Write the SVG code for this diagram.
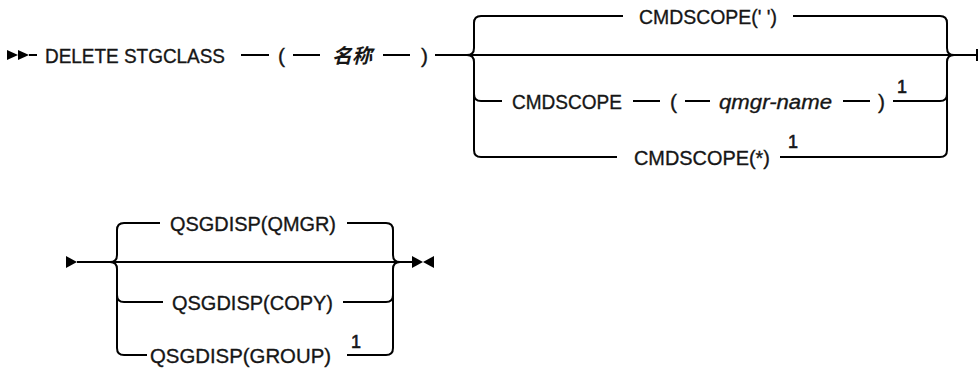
<svg xmlns="http://www.w3.org/2000/svg" width="978" height="369" viewBox="0 0 978 369">
<style>
.ln{fill:none;stroke:#000;stroke-width:2;stroke-linecap:butt;stroke-linejoin:round}
.mk{fill:#000;stroke:none}
.t{font-family:"Liberation Sans",Arial,sans-serif;font-size:21px;fill:#161616;stroke:#161616;stroke-width:0.35}
.i{font-style:italic}
.cjk{font-family:"Liberation Sans","Noto Sans CJK SC",sans-serif;font-style:italic;font-weight:bold;font-size:20px;fill:#161616}
.sup{font-family:"Liberation Sans",Arial,sans-serif;font-size:18px;fill:#161616;stroke:#161616;stroke-width:0.6}
</style>
<rect width="978" height="369" fill="#fff"/>
<g id="connectors">
  <!-- row 1 -->
  <polygon class="mk" points="7,50 18,55 7,60"/>
  <polygon class="mk" points="18,50 29,55 18,60"/>
  <path class="ln" d="M29,55 H37"/>
  <path class="ln" d="M241,55 H269 M293,55 H320 M383,55 H410"/>
  <path class="ln" d="M435,55 H977 M977,49 V61"/>
  <path class="ln" d="M467,55 Q474,55 474,48 V23 Q474,16 481,16 H623"/>
  <path class="ln" d="M467,55 Q474,55 474,62 V150 Q474,157 481,157 H617"/>
  <path class="ln" d="M474,94 Q474,101 481,101 H502"/>
  <path class="ln" d="M633,101 H660 M685,101 H710 M843,101 H870"/>
  <path class="ln" d="M793,16 H940 Q947,16 947,23 V48 Q947,55 954,55"/>
  <path class="ln" d="M893,101 H940 Q947,101 947,94"/>
  <path class="ln" d="M780,157 H940 Q947,157 947,150 V62 Q947,55 954,55"/>
  <!-- row 2 -->
  <polygon class="mk" points="66,256 77,262 66,268"/>
  <path class="ln" d="M77,262 H412"/>
  <path class="ln" d="M110,262 Q117,262 117,255 V230 Q117,223 124,223 H160"/>
  <path class="ln" d="M110,262 Q117,262 117,269 V348 Q117,355 124,355 H147"/>
  <path class="ln" d="M117,295 Q117,302 124,302 H163"/>
  <path class="ln" d="M347,223 H386 Q393,223 393,230 V255 Q393,262 400,262"/>
  <path class="ln" d="M343,302 H386 Q393,302 393,295"/>
  <path class="ln" d="M347,355 H386 Q393,355 393,348 V269 Q393,262 400,262"/>
  <polygon class="mk" points="412,256 423,262 412,268"/>
  <polygon class="mk" points="434,256 423,262 434,268"/>
</g>
<g id="n-delete"><text class="t" x="45" y="62.5" textLength="180" lengthAdjust="spacingAndGlyphs">DELETE STGCLASS</text></g>
<g id="n-lparen1"><text class="t" x="278" y="62.5">(</text></g>
<g id="n-name"><text class="cjk" x="332" y="62.5" textLength="40" lengthAdjust="spacingAndGlyphs">名称</text></g>
<g id="n-rparen1"><text class="t" x="421" y="62.5">)</text></g>
<g id="n-cmdscope-blank"><text class="t" x="708" y="23.5" text-anchor="middle" textLength="138" lengthAdjust="spacingAndGlyphs">CMDSCOPE(' ')</text></g>
<g id="n-cmdscope"><text class="t" x="512" y="108.5" textLength="110" lengthAdjust="spacingAndGlyphs">CMDSCOPE</text></g>
<g id="n-lparen2"><text class="t" x="670" y="108.5">(</text></g>
<g id="n-qmgr-name"><text class="t i" x="719" y="108.5" textLength="113" lengthAdjust="spacingAndGlyphs">qmgr-name</text></g>
<g id="n-rparen2"><text class="t" x="878" y="108.5">)</text></g>
<g id="n-note1a"><text class="sup" x="897" y="93">1</text></g>
<g id="n-cmdscope-star"><text class="t" x="634" y="164.5" textLength="136" lengthAdjust="spacingAndGlyphs">CMDSCOPE(*)</text></g>
<g id="n-note1b"><text class="sup" x="788" y="148">1</text></g>
<g id="n-qsg-qmgr"><text class="t" x="170" y="230.5" textLength="166" lengthAdjust="spacingAndGlyphs">QSGDISP(QMGR)</text></g>
<g id="n-qsg-copy"><text class="t" x="172" y="309.5" textLength="161" lengthAdjust="spacingAndGlyphs">QSGDISP(COPY)</text></g>
<g id="n-qsg-group"><text class="t" x="150" y="362.5" textLength="181" lengthAdjust="spacingAndGlyphs">QSGDISP(GROUP)</text></g>
<g id="n-note1c"><text class="sup" x="351" y="348">1</text></g>
</svg>
